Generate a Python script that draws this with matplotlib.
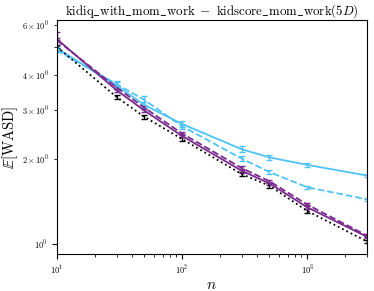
import numpy as np
import matplotlib
matplotlib.use("Agg")
import matplotlib.pyplot as plt

plt.rcParams['font.family'] = 'serif'
plt.rcParams['font.serif'] = ['cmr10', 'DejaVu Serif']
plt.rcParams['mathtext.fontset'] = 'cm'
plt.rcParams['axes.formatter.use_mathtext'] = True

# sample sizes
n = [10, 30, 50, 100, 300, 500, 1000, 3000]

# E[WASD] per method
black_dot = [5.02, 3.33, 2.83, 2.36, 1.77, 1.61, 1.31, 1.02]
black_err = [0.06, 0.05, 0.04, 0.03, 0.03, 0.03, 0.02, 0.01]
purple_solid = [5.35, 3.52, 2.98, 2.42, 1.82, 1.64, 1.35, 1.06]
purple_solid_err = [0.05, 0.04, 0.04, 0.03, 0.03, 0.02, 0.02, 0.01]
purple_dash = [5.30, 3.60, 3.05, 2.47, 1.86, 1.67, 1.38, 1.07]
purple_dash_err = [0.35, 0.05, 0.04, 0.03, 0.03, 0.02, 0.02, 0.01]
blue_solid = [4.96, 3.66, 3.12, 2.67, 2.17, 2.03, 1.91, 1.75]
blue_solid_err = [0.08, 0.10, 0.08, 0.06, 0.05, 0.04, 0.03, 0.02]
blue_dash = [4.88, 3.70, 3.25, 2.62, 2.01, 1.80, 1.59, 1.44]
blue_dash_err = [0.08, 0.10, 0.12, 0.05, 0.04, 0.03, 0.02, 0.02]

purple = '#7b2a8e'
blue = '#4fc3f7'

fig = plt.figure(figsize=(3.74, 2.91), dpi=100)
ax = fig.add_axes([0.152, 0.127, 0.829, 0.804])

kw = dict(capsize=2.5, elinewidth=1.0, capthick=1.0, lw=1.3)
ax.errorbar(n, blue_solid, yerr=blue_solid_err, color=blue, ls='-', **kw)
ax.errorbar(n, blue_dash, yerr=blue_dash_err, color=blue, ls='--', **kw)
ax.errorbar(n, black_dot, yerr=black_err, color='black', ls=':', **kw)
ax.errorbar(n, purple_dash, yerr=purple_dash_err, color=purple, ls='--', **kw)
ax.errorbar(n, purple_solid, yerr=purple_solid_err, color=purple, ls='-', **kw)

ax.set_xscale('log')
ax.set_yscale('log')
ax.set_xlim(10, 3000)
ax.set_ylim(0.92, 6.25)

ax.tick_params(which='both', labelsize=6)
ax.tick_params(which='major', length=3.5)
ax.tick_params(which='minor', length=2)

ax.set_title(r"$\mathrm{kidiq\_with\_mom\_work}\ -\ \mathrm{kidscore\_mom\_work}(5D)$",
             fontsize=9.3, pad=2)
ax.set_xlabel(r"$n$", fontsize=11)
ax.set_ylabel(r"$\mathbb{E}[\mathrm{WASD}]$", fontsize=10.5)
ax.xaxis.set_label_coords(0.5, -0.105)
ax.yaxis.set_label_coords(-0.118, 0.5)

fig.savefig("out.png", dpi=100)
